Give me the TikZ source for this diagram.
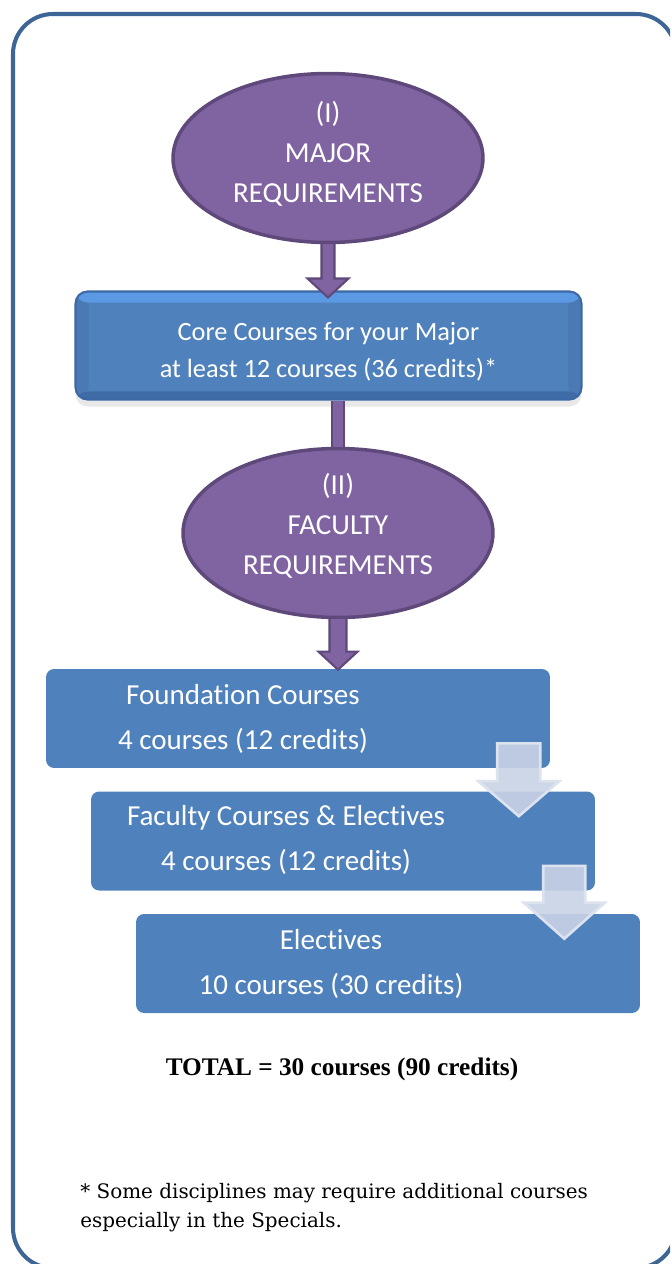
\documentclass[tikz,border=0pt]{standalone}
\usepackage{fontspec}
\setmainfont{Carlito}[Ligatures=NoCommon]
\newfontfamily\totalfont{Liberation Serif}
\newfontfamily\notefont{DejaVu Serif}
\usetikzlibrary{calc,shapes.geometric,shadows}
\definecolor{frameblue}{HTML}{3D6596}
\definecolor{purplefill}{HTML}{8064A2}
\definecolor{purpleedge}{HTML}{5F497A}
\definecolor{boxblue}{HTML}{4F81BD}
\definecolor{corehi}{HTML}{5C99E4}
\definecolor{coreside}{HTML}{4A79B4}
\definecolor{corelow}{HTML}{3F6CA6}
\definecolor{coreedge}{HTML}{3C69A5}
\definecolor{arrowgrey}{HTML}{C9D3E5}
\definecolor{arrowedge}{HTML}{DDE3EE}
% open block arrow (no stroke on its top end)
\def\blockarrow[#1](#2)(#3)(#4:#5:#6){\filldraw[#1] ($(#2)+(-#4,0)$) -- ($(#3)+(-#4,-#6)$) -- ($(#3)+(-#5,-#6)$) -- (#3) -- ($(#3)+(#5,-#6)$) -- ($(#3)+(#4,-#6)$) -- ($(#2)+(#4,0)$);}
% closed block arrow
\def\blockarrowbox[#1](#2)(#3)(#4:#5:#6){\filldraw[#1] ($(#2)+(-#4,0)$) -- ($(#3)+(-#4,-#6)$) -- ($(#3)+(-#5,-#6)$) -- (#3) -- ($(#3)+(#5,-#6)$) -- ($(#3)+(#4,-#6)$) -- ($(#2)+(#4,0)$) -- cycle;}

\begin{document}
\begin{tikzpicture}[x=0.02cm, y=-0.02cm,
	reqellipse/.style={ellipse, draw=purpleedge, line width=2pt, fill=purplefill, inner sep=0pt, minimum width=6.2cm, minimum height=3.38cm},
	reqtext/.style={text=white, align=center, inner sep=0pt, font={\fontsize{16.5}{22.8}\selectfont}},
	corebox/.style={rectangle, rounded corners=0.24cm, draw=coreedge, line width=1.2pt, fill=boxblue, minimum width=10.12cm, minimum height=2.16cm,
		drop shadow={shadow xshift=0pt, shadow yshift=-4pt, opacity=0.18},
		path picture={
			\fill[coreside] (path picture bounding box.south west) rectangle ([xshift=0.26cm]path picture bounding box.north west);
			\fill[coreside] (path picture bounding box.south east) rectangle ([xshift=-0.26cm]path picture bounding box.north east);
			\fill[corehi] (path picture bounding box.north west) rectangle ([yshift=-0.22cm]path picture bounding box.north east);
			\fill[corelow] (path picture bounding box.south west) rectangle ([yshift=0.16cm]path picture bounding box.south east);
		}},
	coretext/.style={text=white, align=center, inner sep=0pt, font={\fontsize{15}{21}\selectfont}},
	stepbox/.style={rectangle, rounded corners=0.16cm, fill=boxblue, minimum width=10.08cm, minimum height=1.98cm},
	steptext/.style={text=white, align=center, inner sep=0pt, font={\fontsize{16.5}{25.6}\selectfont}},
	purplearrow/.style={fill=purplefill, draw=purpleedge, line width=1.2pt},
	purplelink/.style={draw=purpleedge, line width=1.2pt, double=purplefill, double distance=0.2cm},
	greyarrow/.style={fill=arrowgrey, fill opacity=0.9, draw=arrowedge, line width=1.5pt},
	totaltext/.style={inner sep=0pt, font={\totalfont\bfseries\fontsize{14.4}{17}\selectfont}},
	notetext/.style={inner sep=0pt, align=left, font={\notefont\fontsize{11.35}{16.5}\selectfont}}]
		\useasboundingbox (0,0) rectangle (670,1264);
		\clip (0,0) rectangle (670,1264);
		%%%%% FRAME %%%%%
		\draw[frameblue, line width=2.3pt, rounded corners=0.8cm] (13,14) rectangle (676,1268);
		
		%%%%% MAJOR %%%%%
		\node[reqellipse] (major) at (328,158) {};
		\node[reqtext] (major-txt) at ($(major.center)+(0,-4)$) {(I)\\MAJOR\\REQUIREMENTS};
		\node[corebox] (core) at (328.5,345.5) {};
		\node[coretext] (core-txt) at ($(core.center)+(0,6)$) {Core Courses for your Major\\at least 12 courses (36 credits)*};
		\coordinate (t1) at ($(major.south |- core.north)+(0,7)$);
		\blockarrow[purplearrow](major.south)(t1)(6.5:20.5:19)
		
		%%%%% FACULTY %%%%%
		\node[reqellipse] (faculty) at (338,533) {};
		\node[reqtext] (faculty-txt) at ($(faculty.center)+(0,-7)$) {(II)\\FACULTY\\REQUIREMENTS};
		\draw[purplelink] (core.south -| faculty.north) -- (faculty.north);
		
		\node[stepbox] (found) at (298,718.5) {};
		\node[stepbox] (fac) at (343,841) {};
		\node[stepbox] (elec) at (388,963.5) {};
		\node[steptext] (found-txt) at ($(found.center)+(-55,0)$) {Foundation Courses\\4 courses (12 credits)};
		\node[steptext] (fac-txt) at ($(fac.center)+(-57,-1)$) {Faculty Courses \& Electives\\4 courses (12 credits)};
		\node[steptext] (elec-txt) at ($(elec.center)+(-57,0)$) {Electives\\10 courses (30 credits)};
		
		\coordinate (t2) at ($(faculty.south |- found.north)+(0,1)$);
		\blockarrow[purplearrow](faculty.south)(t2)(8.5:19.5:18)
		
		\coordinate (a1-top) at ($(found.south east)+(-31.5,-25)$);
		\coordinate (a1-tip) at ($(a1-top |- fac.north)+(0,25)$);
		\blockarrowbox[greyarrow](a1-top)(a1-tip)(21.5:40.5:35)
		\coordinate (a2-top) at ($(fac.south east)+(-31,-25)$);
		\coordinate (a2-tip) at ($(a2-top |- elec.north)+(0,25)$);
		\blockarrowbox[greyarrow](a2-top)(a2-tip)(21:40.5:36)
		
		%%%%% TOTAL %%%%%
		\node[totaltext] (total) at (342,1069) {TOTAL = 30 courses (90 credits)};
		\node[notetext, anchor=west] (note) at (80,1207.5) {* Some disciplines may require additional courses\\especially in the Specials.};
\end{tikzpicture}
\end{document}
